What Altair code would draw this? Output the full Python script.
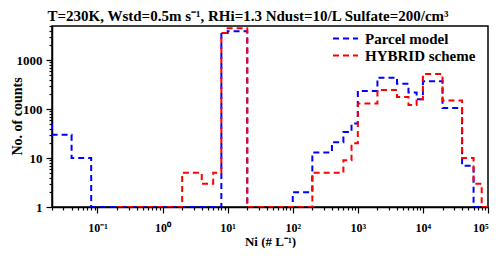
import altair as alt
import pandas as pd

series = ["Parcel model", "HYBRID scheme"]
colors = ["#0000ff", "#ff0000"]

# bin left edges (step-after) and counts
parcel_x = [0.01, 0.02, 0.04, 0.06, 0.08, 8, 10, 20, 100, 200, 400, 600, 800,
            1000, 2000, 4000, 6000, 8000, 10000, 20000, 40000, 60000, 80000, 100000]
parcel_y = [50, 30, 10, 10, 1, 3600, 3900, 1, 2, 13, 21, 34, 51,
            235, 440, 330, 220, 160, 372, 105, 7, 1, 1, 1]

hybrid_x = [0.2, 2, 4, 6, 8, 10, 20, 200, 400, 600, 800,
            1000, 2000, 4000, 6000, 8000, 10000, 20000, 40000, 60000, 80000, 100000]
hybrid_y = [1, 5, 3, 5, 3600, 4500, 1, 5, 5, 9, 20,
            130, 245, 178, 122, 160, 525, 150, 10, 3, 1, 1]

x_decades = [-1, 0, 1, 2, 3, 4, 5]
x_labels = ["10⁻¹", "10⁰", "10¹", "10²", "10³", "10⁴", "10⁵"]

x_domain = [0.02, 100000]
y_domain = [1, 5000]

df = pd.concat([
    pd.DataFrame({"Ni": parcel_x, "count": parcel_y, "series": series[0], "o": range(len(parcel_x))}),
    pd.DataFrame({"Ni": hybrid_x, "count": hybrid_y, "series": series[1], "o": range(len(hybrid_x))}),
])

x_ticks = [round(m * 10.0 ** e, 6) for e in range(-2, 5) for m in range(1, 10)]
x_ticks = [v for v in x_ticks if x_domain[0] <= v <= x_domain[1]] + [100000]
y_ticks = [m * 10 ** e for e in range(0, 4) for m in range(1, 10)]
y_ticks = [v for v in y_ticks if v <= y_domain[1]]

LOGV = "(log(datum.value)/LN10)"
IS_DEC = f"abs({LOGV} - round({LOGV})) < 0.001"

x_expr = "''"
for d, lab in zip(reversed(x_decades), reversed(x_labels)):
    x_expr = f"round({LOGV}) == {d} && {IS_DEC} ? '{lab}' : ({x_expr})"

y_expr = f"{IS_DEC} ? format(datum.value, 'd') : ''"

FONT = "Liberation Serif"

chart = alt.Chart(df).mark_line(
    interpolate="step-after", strokeDash=[6, 4], strokeWidth=2, clip=True
).encode(
    x=alt.X("Ni:Q", scale=alt.Scale(type="log", domain=x_domain, nice=False),
            axis=alt.Axis(values=x_ticks, labelExpr=x_expr, title="Ni (# L⁻¹)",
                          tickSize={"condition": {"test": IS_DEC, "value": 6}, "value": 3},
                          labelFlush=True, labelOverlap=False, labelPadding=9,
                          labelFontSize=12, titleFontSize=13,
                          titleY=38, titleBaseline="alphabetic")),
    y=alt.Y("count:Q", scale=alt.Scale(type="log", domain=y_domain, nice=False),
            axis=alt.Axis(values=y_ticks, labelExpr=y_expr, title="No. of counts",
                          tickSize={"condition": {"test": IS_DEC, "value": 6}, "value": 3},
                          labelFlush=False, labelOverlap=False, labelPadding=4,
                          titleX=-35, titleY=90, titleBaseline="middle", titleAlign="center")),
    color=alt.Color("series:N", scale=alt.Scale(domain=series, range=colors),
                    legend=alt.Legend(orient="none", legendX=280, legendY=4, title=None,
                                      symbolType="stroke", symbolStrokeWidth=2,
                                      symbolDash=[6, 4], symbolSize=625, clipHeight=17,
                                      labelFont=FONT, labelFontSize=15, labelFontWeight="bold",
                                      labelColor="black", labelOffset=6, rowPadding=0)),
    order="o:Q",
).properties(
    width=436, height=181,
    title=alt.TitleParams("T=230K, Wstd=0.5m s⁻¹, RHi=1.3 Ndust=10/L Sulfate=200/cm³",
                          font=FONT, fontSize=15, fontWeight="bold", color="black",
                          offset=8, dx=-22, dy=12, frame="group"),
    autosize=alt.AutoSizeParams(type="none"),
    padding={"left": 44, "top": 18, "right": 4, "bottom": 41},
).configure_view(
    stroke="black", strokeWidth=1.5
).configure_axis(
    domainColor="black", domainWidth=1.5, tickColor="black", tickWidth=1.2,
    labelFont=FONT, labelFontSize=13, labelFontWeight="bold", labelColor="black",
    titleFont=FONT, titleFontSize=14, titleFontWeight="bold", titleColor="black",
    grid=False
)

chart.save("out.html", embed_options={"renderer": "svg", "actions": False})
